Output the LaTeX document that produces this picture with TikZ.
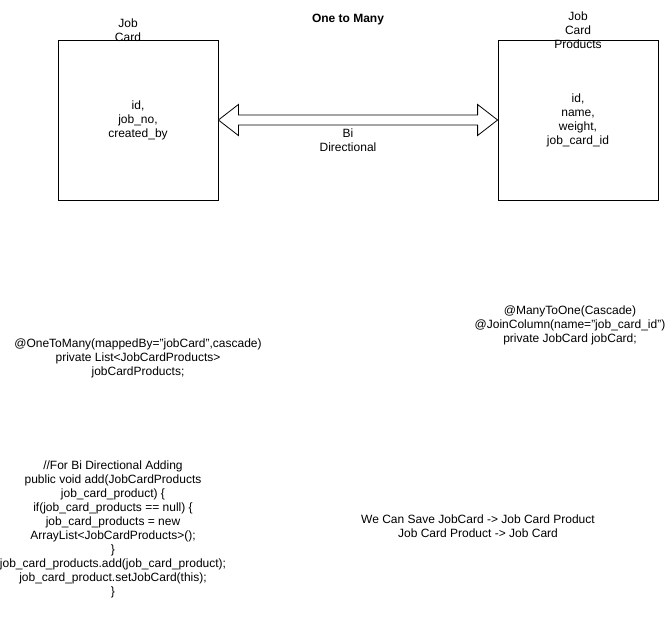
\documentclass[tikz,border=0pt]{standalone}
\usepackage{fontspec}
\setmainfont{Liberation Sans}
\usetikzlibrary{calc}
\begin{document}
\begin{tikzpicture}[x=1pt,y=-1pt,
  every node/.style={font=\fontsize{12}{14}\selectfont, align=center, inner sep=0pt},
  entity/.style={draw, line width=0.8pt, minimum width=160pt, minimum height=160pt}]
\useasboundingbox (0,0) rectangle (666,621);
% entities
\node[entity] (jc) at (138,120) {id,\\job\_no,\\created\_by};
\node[entity] (jcp) at (578,120) {id,\\name,\\weight,\\job\_card\_id};
\node (jct) at (128,30) {Job\\Card};
\node (jcpt) at (578,30.5) {Job\\Card\\Products};
\node[font=\fontsize{12}{14}\selectfont\bfseries] (title) at (348,20) {One to Many};
% bidirectional flat arrow
\coordinate (l) at (jc.east);
\coordinate (r) at (jcp.west);
\draw[line width=0.8pt, fill=white]
  (l) -- ++(20,-15.5) -- ++(0,10.5) -- ($(r)+(-20,-5)$) -- ++(0,-10.5) -- (r)
  -- ++(-20,15.5) -- ++(0,-10.5) -- ($(l)+(20,5)$) -- ++(0,10.5) -- cycle;
\node (bi) at (348,140.5) {Bi\\Directional};
% annotations
\node (otm) at (138,358.5) {@OneToMany(mappedBy="jobCard",cascade)\\private List<JobCardProducts>\\jobCardProducts;};
\node (mto) at (570,325.5) {@ManyToOne(Cascade)\\@JoinColumn(name="job\_card\_id")\\private JobCard jobCard;};
\node (code) at (113,529) {//For Bi Directional Adding\\public void add(JobCardProducts\\job\_card\_product) \{\\if(job\_card\_products == null) \{\\job\_card\_products = new\\ArrayList<JobCardProducts>();\\\}\\job\_card\_products.add(job\_card\_product);\\job\_card\_product.setJobCard(this);\\\}};
\node (save) at (478,526) {We Can Save JobCard -> Job Card Product\\Job Card Product -> Job Card};
\end{tikzpicture}
\end{document}
